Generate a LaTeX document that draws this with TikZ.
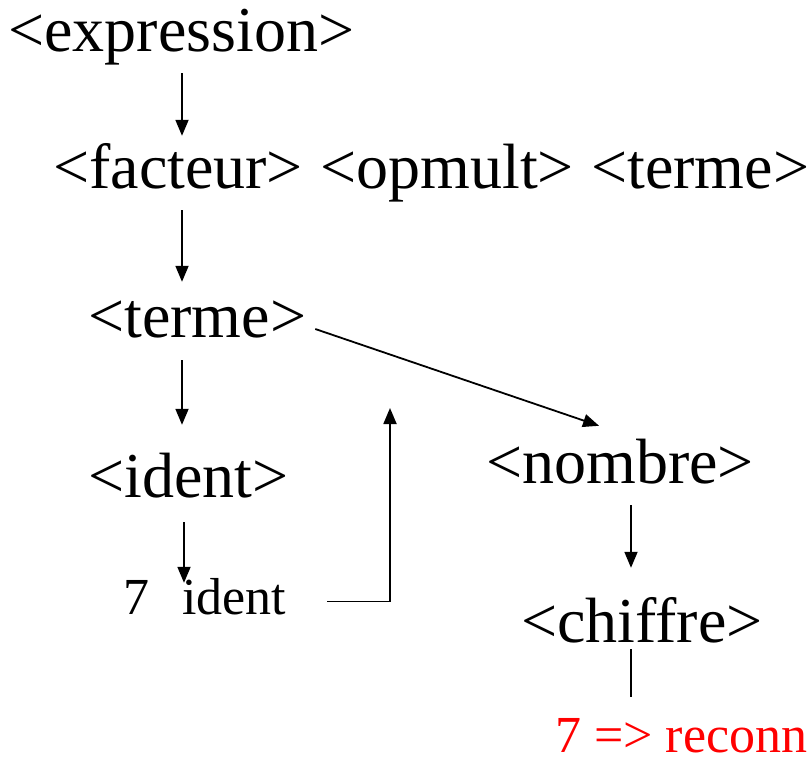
\documentclass[tikz,border=0pt]{standalone}
\usepackage{fontspec}
\setmainfont{Liberation Serif}
\usepackage{xcolor}
\usepackage{tikz}
\usetikzlibrary{positioning, arrows.meta}
\tikzset{
    regle/.style={anchor=base west, inner sep=0pt, text height=44pt, text depth=14pt, font=\fontsize{64}{70}\selectfont},
    jeton/.style={anchor=base west, inner sep=0pt, text height=36pt, text depth=11pt, font=\fontsize{52}{60}\selectfont},
    resultat/.style={jeton, text=red},
    arrow/.style={-{Triangle[length=16pt, width=13pt]}, line width=1.8pt},
    trait/.style={line width=1.8pt}
}

\begin{document}
\begin{tikzpicture}[x=1pt, y=-1pt, node distance=17pt]
        \useasboundingbox (0,0) rectangle (809,760);
        \coordinate (colA) at (182,0);
        \coordinate (colB) at (631,0);

        % Left branch
        \node[regle] (expr) at (8,52) {<expression>};
        \node[regle] (fact) at (53,188) {<facteur>};
        \node[regle, right=of fact] (opmult) {<opmult>};
        \node[regle, right=of opmult] (termeA) {<terme>};
        \node[regle] (termeB) at (88,337) {<terme>};
        \node[regle] (ident) at (88,497) {<ident>};
        \node[jeton] (sept) at (123,614) {7\hspace{33pt}ident};

        % Right branch
        \node[regle] (nombre) at (486,483) {<nombre>};
        \node[regle] (chiffre) at (521,642) {<chiffre>};
        \node[resultat] (reconnu) at (555,752) {7 => reconn};
        \coordinate (retour) at (390,408);

        % Connections
        \draw[arrow, shorten <=7pt, shorten >=8pt] (expr.south -| colA) -- (fact.north -| colA);
        \draw[arrow, shorten <=8pt, shorten >=11pt] (fact.south -| colA) -- (termeB.north -| colA);
        \draw[arrow, shorten <=9pt, shorten >=28pt] (termeB.south -| colA) -- (ident.north -| colA);
        \draw[arrow, shorten <=11pt, shorten >=-5pt] ([xshift=2pt]ident.south -| colA) -- ([xshift=2pt]sept.north -| colA);
        \draw[arrow] ([shift={(9,7)}]termeB.east) -- ([shift={(-21,-13)}]nombre.north);
        \draw[arrow] ([xshift=41pt]sept.east) -| (retour);
        \draw[arrow, shorten <=8pt, shorten >=30pt] (nombre.south -| colB) -- (chiffre.north -| colB);
        \draw[trait, shorten <=-7pt, shorten >=19pt] (chiffre.south -| colB) -- (reconnu.north -| colB);
    \end{tikzpicture}
\end{document}
